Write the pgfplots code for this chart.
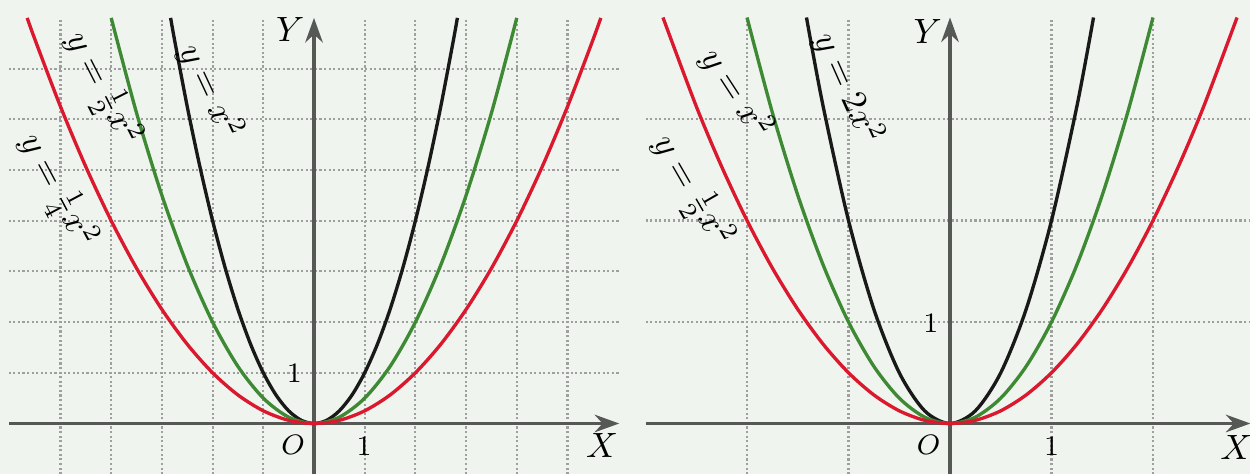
\documentclass[border=0pt]{standalone}
\usepackage{pgfplots}
\pgfplotsset{compat=1.18}
\usetikzlibrary{arrows.meta}

\definecolor{bg}{RGB}{239,244,238}
\definecolor{cred}{RGB}{218,24,46}
\definecolor{cgreen}{RGB}{62,138,52}
\definecolor{cblack}{RGB}{25,25,25}
\definecolor{caxis}{RGB}{85,88,85}

\pgfplotsset{
  parab/.style={
    axis lines*=middle,
    anchor=origin,
    clip=false,
    axis line style={caxis, line width=0.9pt, -{Stealth[length=7pt,width=5pt]}},
    grid=major,
    grid style={gray!75, line width=0.6pt, dash pattern=on 0.6pt off 0.7pt},
    major tick length=0pt,
    xticklabels={}, yticklabels={},
    every axis plot/.append style={line width=0.95pt, smooth, no marks},
  },
}

\begin{document}
\begin{tikzpicture}
\fill[bg] (0,0) rectangle (12.5,4.74);
\useasboundingbox (0,0) rectangle (12.5,4.74);

% left: y = x^2, x^2/2, x^2/4
\begin{axis}[parab, at={(3.14cm,0.505cm)}, x=0.507cm, y=0.507cm,
  xmin=-6.02, xmax=6.02, ymin=-1.0, ymax=8.0,
  xtick={-5,-4,-3,-2,-1,1,2,3,4,5}, ytick={1,2,3,4,5,6,7}]
\addplot[cblack] coordinates {
  (-2.828,8)(-2.75,7.5625)(-2.5,6.25)(-2.25,5.0625)(-2,4)(-1.75,3.0625)
  (-1.5,2.25)(-1.25,1.5625)(-1,1)(-0.75,0.5625)(-0.5,0.25)(-0.25,0.0625)(0,0)
  (0.25,0.0625)(0.5,0.25)(0.75,0.5625)(1,1)(1.25,1.5625)(1.5,2.25)
  (1.75,3.0625)(2,4)(2.25,5.0625)(2.5,6.25)(2.75,7.5625)(2.828,8)};
\addplot[cgreen] coordinates {
  (-4,8)(-3.5,6.125)(-3,4.5)(-2.5,3.125)(-2,2)(-1.5,1.125)(-1,0.5)
  (-0.5,0.125)(0,0)(0.5,0.125)(1,0.5)(1.5,1.125)(2,2)(2.5,3.125)
  (3,4.5)(3.5,6.125)(4,8)};
\addplot[cred] coordinates {
  (-5.657,8)(-5.5,7.5625)(-5,6.25)(-4.5,5.0625)(-4,4)(-3.5,3.0625)(-3,2.25)
  (-2.5,1.5625)(-2,1)(-1.5,0.5625)(-1,0.25)(-0.5,0.0625)(0,0)(0.5,0.0625)
  (1,0.25)(1.5,0.5625)(2,1)(2.5,1.5625)(3,2.25)(3.5,3.0625)(4,4)
  (4.5,5.0625)(5,6.25)(5.5,7.5625)(5.657,8)};
\node[rotate=-65] at (axis cs:-2.03,6.55) {$y=x^2$};
\node[rotate=-63] at (axis cs:-4.18,6.59) {$y=\frac{1}{2}x^2$};
\node[rotate=-62] at (axis cs:-5.07,4.58) {$y=\frac{1}{4}x^2$};
\node at (axis cs:-0.47,7.77) {$Y$};
\node at (axis cs:5.68,-0.43) {$X$};
\node[font=\footnotesize] at (axis cs:-0.41,-0.43) {$O$};
\node[font=\footnotesize] at (axis cs:0.99,-0.45) {$1$};
\node[font=\footnotesize] at (axis cs:-0.39,0.99) {$1$};
\end{axis}

% right: y = 2x^2, x^2, x^2/2
\begin{axis}[parab, at={(9.50cm,0.505cm)}, x=1.015cm, y=1.015cm,
  xmin=-3.0, xmax=2.96, ymin=-0.5, ymax=4.0,
  xtick={-2,-1,1,2}, ytick={1,2,3}]
\addplot[cblack] coordinates {
  (-1.414,4)(-1.25,3.125)(-1,2)(-0.75,1.125)(-0.5,0.5)(-0.25,0.125)(0,0)
  (0.25,0.125)(0.5,0.5)(0.75,1.125)(1,2)(1.25,3.125)(1.414,4)};
\addplot[cgreen] coordinates {
  (-2,4)(-1.75,3.0625)(-1.5,2.25)(-1.25,1.5625)(-1,1)(-0.75,0.5625)
  (-0.5,0.25)(-0.25,0.0625)(0,0)(0.25,0.0625)(0.5,0.25)(0.75,0.5625)
  (1,1)(1.25,1.5625)(1.5,2.25)(1.75,3.0625)(2,4)};
\addplot[cred] coordinates {
  (-2.828,4)(-2.5,3.125)(-2.25,2.53125)(-2,2)(-1.75,1.53125)(-1.5,1.125)
  (-1.25,0.78125)(-1,0.5)(-0.75,0.28125)(-0.5,0.125)(-0.25,0.03125)(0,0)
  (0.25,0.03125)(0.5,0.125)(0.75,0.28125)(1,0.5)(1.25,0.78125)(1.5,1.125)
  (1.75,1.53125)(2,2)(2.25,2.53125)(2.5,3.125)(2.828,4)};
\node[rotate=-66] at (axis cs:-1.00,3.30) {$y=2x^2$};
\node[rotate=-57] at (axis cs:-2.10,3.25) {$y=x^2$};
\node[rotate=-60] at (axis cs:-2.54,2.28) {$y=\frac{1}{2}x^2$};
\node at (axis cs:-0.22,3.86) {$Y$};
\node at (axis cs:2.82,-0.24) {$X$};
\node[font=\footnotesize] at (axis cs:-0.21,-0.21) {$O$};
\node[font=\footnotesize] at (axis cs:1.0,-0.23) {$1$};
\node[font=\footnotesize] at (axis cs:-0.19,0.99) {$1$};
\end{axis}
\end{tikzpicture}
\end{document}
